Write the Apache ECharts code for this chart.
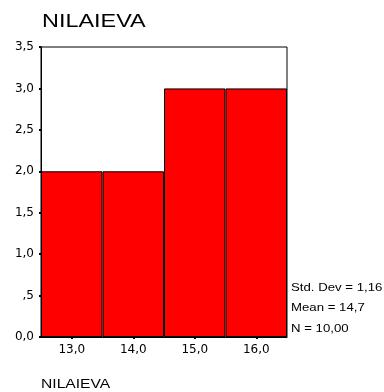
<!DOCTYPE html>
<html>
<head>
<meta charset="utf-8">
<script src="https://cdn.jsdelivr.net/npm/echarts@6/dist/echarts.min.js"></script>
<style>
  html, body { margin: 0; padding: 0; background: #fff; }
  #histChart { width: 384px; height: 392px; }
</style>
</head>
<body>
<div id="histChart"></div>
<script>
// histogram bins (midpoints) and counts
const binLabels = ['13,0', '14,0', '15,0', '16,0']
const counts = [2, 2, 3, 3]
const yTickLabels = ['0,0', ',5', '1,0', '1,5', '2,0', '2,5', '3,0', '3,5']
const statLines = ['Std. Dev = 1,16', 'Mean = 14,7', 'N = 10,00']

const chart = echarts.init(document.getElementById('histChart'))
const font = 'Liberation Sans, Arial, sans-serif'
const labelFont = 'DejaVu Sans, sans-serif'

// stats box lines, stretched a bit like the original output
const statTexts = statLines.map((s, i) => ({
  type: 'text',
  x: 291,
  y: [288, 308, 329][i],
  scaleX: 1.2,
  style: { text: s, fontFamily: font, fontSize: 11, fill: '#000', verticalAlign: 'middle' }
}))

const option = {
  animation: false,
  grid: {
    left: 41,
    right: 97,
    top: 47,
    bottom: 55,
    show: true,
    borderColor: '#000',
    borderWidth: 1
  },
  xAxis: {
    type: 'category',
    data: binLabels,
    boundaryGap: true,
    axisLine: { show: true, lineStyle: { color: '#000' } },
    axisTick: { show: true, alignWithLabel: true, length: 2, lineStyle: { width: 2, color: '#000' } },
    axisLabel: { fontFamily: labelFont, fontSize: 12, color: '#000', margin: 7 }
  },
  yAxis: {
    type: 'value',
    min: 0,
    max: 3.5,
    interval: 0.5,
    splitLine: { show: false },
    axisLine: { show: true, lineStyle: { color: '#000' } },
    axisTick: { show: true, length: 2, lineStyle: { width: 2, color: '#000' } },
    axisLabel: {
      fontFamily: labelFont, fontSize: 12, color: '#000', margin: 7,
      formatter: function (v) { return yTickLabels[Math.round(v * 2)] }
    }
  },
  series: [{
    type: 'bar',
    data: counts,
    barCategoryGap: 0,
    itemStyle: { color: '#ff0000', borderColor: '#000', borderWidth: 1 }
  }],
  graphic: [
    {
      type: 'text', x: 42, y: 22, scaleX: 1.3,
      style: { text: 'NILAIEVA', fontFamily: font, fontSize: 18, fill: '#000', verticalAlign: 'middle' }
    },
    {
      type: 'text', x: 41, y: 385, scaleX: 1.25,
      style: { text: 'NILAIEVA', fontFamily: font, fontSize: 12.5, fill: '#000', verticalAlign: 'middle' }
    }
  ].concat(statTexts)
}
chart.setOption(option)
</script>
</body>
</html>
